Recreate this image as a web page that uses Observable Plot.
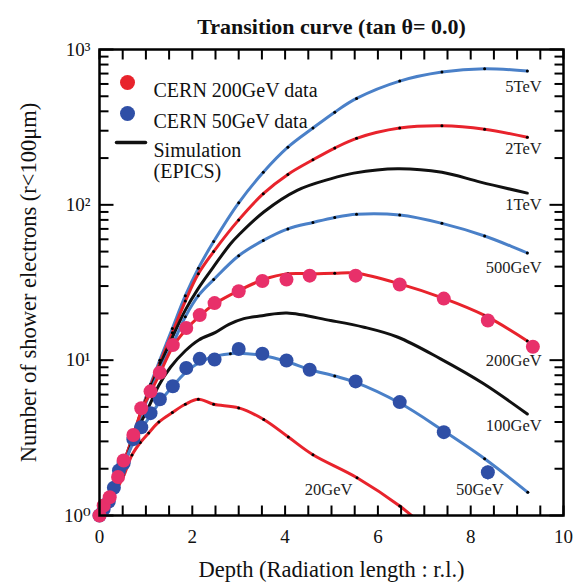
<!DOCTYPE html>
<html>
<head>
<meta charset="utf-8">
<script src="https://cdn.jsdelivr.net/npm/d3@7"></script>
<script src="https://cdn.jsdelivr.net/npm/@observablehq/plot@0.6"></script>
<style>
  html, body { margin: 0; padding: 0; background: #fff; }
</style>
</head>
<body>
<div id="chart"></div>
<script>
// ---- Simulation curves (EPICS) ----
const x5TeV = [0, 0.2, 0.4, 0.55, 0.73, 0.92, 1.1, 1.3, 1.57, 1.85, 2.13, 2.46, 3.0, 3.53, 4.06, 4.6, 5.07, 5.54, 6.47, 7.38, 8.3, 9.22];
const y5TeV = [1, 1.25, 1.7, 2.3, 3.3, 4.9, 7.0, 10, 16, 26, 39, 58, 103, 162, 235, 312, 395, 484, 626, 716, 752, 726];

const x2TeV = [0, 0.2, 0.4, 0.55, 0.73, 0.92, 1.1, 1.3, 1.57, 1.85, 2.13, 2.46, 3.0, 3.53, 4.06, 4.6, 5.07, 5.54, 6.47, 7.38, 8.3, 9.22];
const y2TeV = [1, 1.25, 1.7, 2.3, 3.3, 4.85, 6.8, 9.6, 15, 24, 36, 50, 80, 118, 157, 195, 232, 268, 312, 323, 307, 272];

const x1TeV = [0, 0.2, 0.4, 0.55, 0.73, 0.92, 1.1, 1.3, 1.57, 1.85, 2.13, 2.46, 2.82, 3.0, 3.54, 4.26, 4.98, 5.48, 6.42, 7.38, 8.21, 9.22];
const y1TeV = [1, 1.25, 1.7, 2.25, 3.25, 4.75, 6.6, 9.2, 14, 21, 29, 40, 56, 64, 90, 124, 147, 160, 171, 162, 140, 119];

const x500GeV = [0, 0.2, 0.4, 0.55, 0.73, 0.92, 1.1, 1.3, 1.57, 1.85, 2.13, 2.46, 3.0, 3.53, 4.06, 4.6, 5.07, 5.54, 6.47, 7.38, 8.3, 9.22];
const y500GeV = [1, 1.25, 1.7, 2.25, 3.2, 4.6, 6.3, 8.6, 12.5, 19, 26, 33, 47, 59, 70, 77, 83, 87, 86, 76, 63, 49];

const x200GeV = [0, 0.22, 0.4, 0.52, 0.73, 0.9, 1.1, 1.3, 1.58, 1.87, 2.16, 2.48, 3.0, 3.53, 4.06, 4.6, 5.07, 5.54, 6.47, 7.42, 8.3, 9.22];
const y200GeV = [1, 1.3, 1.75, 2.2, 3.25, 4.7, 6.2, 8.2, 12.2, 15.8, 19.3, 23, 28, 33, 36, 36, 36.3, 36.3, 31, 25, 19.4, 13.3];

const x100GeV = [0, 0.2, 0.4, 0.55, 0.7, 0.88, 1.06, 1.28, 1.53, 1.85, 2.14, 2.5, 2.79, 3.11, 3.54, 4.04, 4.98, 5.7, 6.42, 7.35, 8.28, 9.22];
const y100GeV = [1, 1.22, 1.65, 2.15, 2.95, 3.9, 5.0, 6.9, 9.0, 11.5, 13.5, 15.1, 17, 18.5, 19.4, 20.1, 18, 16.3, 14.1, 10.2, 7.05, 4.5];

const x50GeV = [0, 0.2, 0.31, 0.42, 0.52, 0.73, 0.9, 1.1, 1.3, 1.58, 1.87, 2.16, 2.48, 2.82, 3.0, 3.51, 4.03, 4.53, 5.07, 5.52, 6.47, 7.42, 8.3, 9.23];
const y50GeV = [1, 1.2, 1.45, 1.75, 2.1, 2.95, 3.6, 4.4, 5.4, 6.8, 8.4, 9.7, 10.6, 11, 11.1, 10.7, 9.8, 8.7, 7.9, 7.2, 5.3, 3.5, 2.32, 1.41];

const x20GeV = [0, 0.15, 0.3, 0.52, 0.7, 0.88, 1.06, 1.28, 1.57, 1.85, 2.13, 2.46, 3.0, 3.54, 4.07, 4.6, 5.55, 6.47, 7.0];
const y20GeV = [1, 1.15, 1.35, 1.8, 2.45, 2.95, 3.4, 4.0, 4.6, 5.2, 5.6, 5.2, 4.93, 4.15, 3.2, 2.46, 1.75, 1.15, 0.85];

// ---- CERN measured data ----
const xCERN200 = [0, 0.09, 0.22, 0.40, 0.52, 0.73, 0.90, 1.10, 1.30, 1.58, 1.87, 2.16, 2.48, 3.0, 3.51, 4.03, 4.53, 5.52, 6.47, 7.42, 8.37, 9.34];
const yCERN200 = [1, 1.16, 1.31, 1.77, 2.26, 3.3, 4.9, 6.3, 8.3, 12.5, 16.1, 19.5, 23.3, 27.8, 32.3, 33, 35, 35, 30.7, 24.9, 18, 12.2];

const xCERN50 = [0, 0.09, 0.20, 0.31, 0.42, 0.52, 0.73, 0.90, 1.10, 1.30, 1.58, 1.87, 2.16, 2.48, 3.0, 3.51, 4.03, 4.53, 5.52, 6.47, 7.42, 8.37];
const yCERN50 = [1, 1.10, 1.23, 1.51, 1.95, 2.17, 3.1, 3.7, 4.56, 5.6, 6.8, 8.9, 10.2, 10.1, 11.8, 11.0, 9.96, 8.67, 7.3, 5.37, 3.44, 1.90];

// error bar on last 50GeV point
const errX = [8.37];
const errLo = [1.74];
const errHi = [2.06];

// ---- labels ----
const curveNames = ["5TeV", "2TeV", "1TeV", "500GeV", "200GeV", "100GeV", "50GeV", "20GeV"];
const labelX = [9.53, 9.53, 9.53, 9.53, 9.53, 9.53, 8.71, 5.45];
const labelY = [580, 231, 100, 39.5, 9.96, 3.8, 1.47, 1.47];

const xTicksMajor = [0, 2, 4, 6, 8, 10];
const xTicksMinor = d3.range(0, 10.001, 0.5);
const yTicksMajor = [1, 10, 100, 1000];
const yTicksMinor = [];
for (const d of [1, 10, 100]) for (let m = 2; m <= 9; m++) yTicksMinor.push(d * m);

const titleText = "Transition curve (tan \u03B8= 0.0)";
const xLabelText = "Depth (Radiation length : r.l.)";
const yLabelText = "Number of shower electrons (r<100\u03BCm)";
const legendLabels = ["CERN 200GeV data", "CERN 50GeV data", "Simulation", "(EPICS)"];

// ---- colours ----
const RED = "#e8232c";
const BLUE = "#4a80c8";
const BLACK = "#111111";
const PINK = "#e8306a";
const DBLUE = "#2f4fa6";

const curves = [
  {xs: x5TeV, ys: y5TeV, color: BLUE, dots: true},
  {xs: x2TeV, ys: y2TeV, color: RED, dots: true},
  {xs: x1TeV, ys: y1TeV, color: BLACK, dots: false},
  {xs: x500GeV, ys: y500GeV, color: BLUE, dots: true},
  {xs: x200GeV, ys: y200GeV, color: RED, dots: true},
  {xs: x100GeV, ys: y100GeV, color: BLACK, dots: false},
  {xs: x50GeV, ys: y50GeV, color: BLUE, dots: true},
  {xs: x20GeV, ys: y20GeV, color: RED, dots: true}
];

const toPts = (xs, ys) => xs.map((x, i) => ({x, y: ys[i]}));
const lineShape = {draw(ctx, l) { ctx.moveTo(0, 0); ctx.lineTo(0, -l); }};

// tick glyphs as custom dot symbols (filled thin bars, sizes in px)
const barSymbol = (x0, y0, w, h) => ({draw(ctx) { ctx.rect(x0, y0, w, h); }});
const symUp = barSymbol(-1, -10, 2, 10);      // bottom edge, pointing up
const symDown = barSymbol(-1, 0, 2, 10);      // top edge, pointing down
const symRightMaj = barSymbol(0, -1, 14, 2);  // left edge, major
const symRightMin = barSymbol(0, -1, 9, 2);   // left edge, minor
const symLeftMaj = barSymbol(-14, -1, 14, 2); // right edge, major
const symLeftMin = barSymbol(-9, -1, 9, 2);   // right edge, minor

const marks = [];
for (const c of curves) {
  const pts = toPts(c.xs, c.ys);
  marks.push(Plot.line(pts, {x: "x", y: "y", stroke: c.color, strokeWidth: 3, curve: "catmull-rom", clip: true}));
}
for (const c of curves) {
  if (!c.dots) continue;
  const pts = toPts(c.xs, c.ys).filter(d => d.y >= 1 && d.x > 0);
  marks.push(Plot.dot(pts, {x: "x", y: "y", r: 1.5, fill: "#000", clip: true}));
}

// inward ticks
const tickDot = {r: 4, fill: "#000", stroke: "none"};
marks.push(
  Plot.dot(xTicksMinor.map(v => ({x: v, y: 1})), {...tickDot, x: "x", y: "y", symbol: symUp}),
  Plot.dot(xTicksMinor.map(v => ({x: v, y: 1000})), {...tickDot, x: "x", y: "y", symbol: symDown}),
  Plot.dot(yTicksMajor.map(v => ({x: 0, y: v})), {...tickDot, x: "x", y: "y", symbol: symRightMaj}),
  Plot.dot(yTicksMinor.map(v => ({x: 0, y: v})), {...tickDot, x: "x", y: "y", symbol: symRightMin}),
  Plot.dot(yTicksMajor.map(v => ({x: 10, y: v})), {...tickDot, x: "x", y: "y", symbol: symLeftMaj}),
  Plot.dot(yTicksMinor.map(v => ({x: 10, y: v})), {...tickDot, x: "x", y: "y", symbol: symLeftMin})
);

// data points
marks.push(Plot.line(errX.flatMap((x, i) => [{x, y: errLo[i]}, {x, y: errHi[i]}]), {x: "x", y: "y", stroke: DBLUE, strokeWidth: 2.5}));
marks.push(Plot.dot(toPts(xCERN50, yCERN50), {x: "x", y: "y", r: 7, fill: DBLUE}));
marks.push(Plot.dot(toPts(xCERN200, yCERN200), {x: "x", y: "y", r: 7, fill: PINK}));

// curve labels
marks.push(Plot.text(curveNames.map((t, i) => ({t, x: labelX[i], y: labelY[i]})), {
  x: "x", y: "y", text: "t", textAnchor: "end", fontSize: 16.5, fill: "#222"
}));

// frame and axis labels
const supers = ["\u2070", "\u00B9", "\u00B2", "\u00B3"];
marks.push(
  Plot.frame({stroke: "#000", strokeWidth: 2.5}),
  Plot.axisX({anchor: "bottom", ticks: xTicksMajor, tickSize: 0, tickPadding: 14, fontSize: 19, label: null, tickFormat: d => String(d)}),
  Plot.axisY({anchor: "left", ticks: yTicksMajor, tickSize: 0, tickPadding: 9, fontSize: 19, label: null,
    tickFormat: d => "10" + supers[Math.round(Math.log10(d))]})
);

// titles
marks.push(
  Plot.text([titleText], {frameAnchor: "top", dy: -31, fontSize: 22, fontWeight: "bold", fill: "#111"}),
  Plot.text([xLabelText], {frameAnchor: "bottom", dy: 61, fontSize: 22.5, fill: "#111"}),
  Plot.text([yLabelText], {frameAnchor: "left", textAnchor: "middle", lineAnchor: "middle", dx: -71, rotate: -90, fontSize: 22.5, fill: "#111"})
);

// legend
const legText = {frameAnchor: "top-left", textAnchor: "start", fontSize: 20, fill: "#111"};
marks.push(
  Plot.dot([0], {frameAnchor: "top-left", dx: 28, dy: 33, r: 7.5, fill: RED}),
  Plot.dot([0], {frameAnchor: "top-left", dx: 28, dy: 64, r: 7.5, fill: DBLUE}),
  Plot.vector([0], {frameAnchor: "top-left", dx: 17, dy: 93, length: 29, rotate: 90, anchor: "start", stroke: BLACK, strokeWidth: 3.5, shape: lineShape}),
  Plot.text([legendLabels[0]], {...legText, dx: 54, dy: 33}),
  Plot.text([legendLabels[1]], {...legText, dx: 54, dy: 64}),
  Plot.text([legendLabels[2]], {...legText, dx: 54, dy: 93}),
  Plot.text([legendLabels[3]], {...legText, dx: 54, dy: 114})
);

const chart = Plot.plot({
  width: 584,
  height: 588,
  marginLeft: 99,
  marginRight: 21,
  marginTop: 49,
  marginBottom: 73,
  style: {fontFamily: "'Liberation Serif', 'DejaVu Serif', serif", background: "#fff", color: "#111"},
  x: {domain: [0, 10]},
  y: {type: "log", domain: [1, 1000]},
  marks
});
document.getElementById("chart").appendChild(chart);
</script>
</body>
</html>
